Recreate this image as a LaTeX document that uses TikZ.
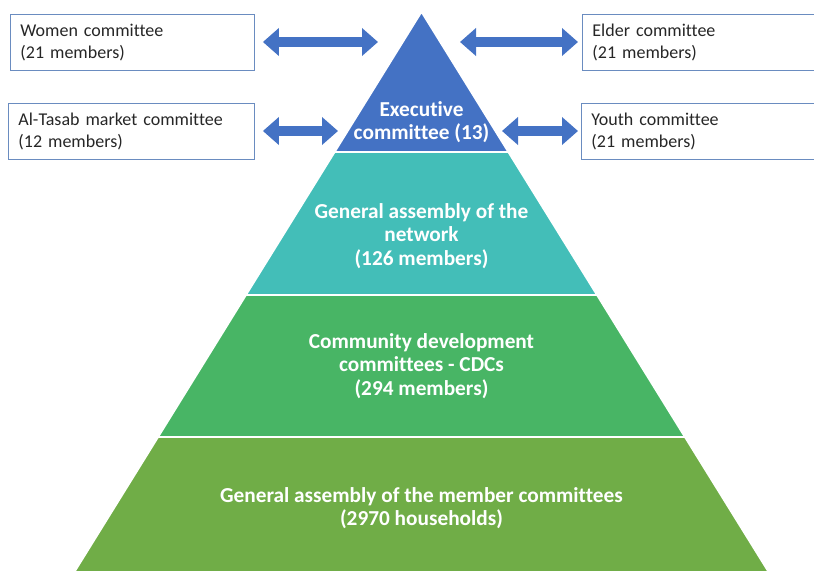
\documentclass[tikz,border=0pt]{standalone}
\usepackage{fontspec}
\setmainfont{Carlito}[Ligatures={NoCommon}]
\usetikzlibrary{arrows.meta}
\definecolor{execblue}{HTML}{4472C4}
\definecolor{tealc}{HTML}{43BEB8}
\definecolor{greenc}{HTML}{48B565}
\definecolor{olivec}{HTML}{70AD47}
\definecolor{boxline}{HTML}{6A8CC0}
\definecolor{txt}{HTML}{262626}
\tikzset{
  sidebox/.style={draw=boxline, line width=0.9pt, anchor=north west, minimum height=56pt,
    inner xsep=10pt, inner ysep=0pt, align=left, text=txt, font=\fontsize{18}{22.5}\selectfont},
  layer/.style={draw=white, line width=1.6pt},
  layertext/.style={text=white, align=center, font=\bfseries\fontsize{21.3}{23.5}\selectfont},
  biarrow/.style={draw=execblue, line width=10pt, {Triangle[width=27pt,length=16pt]}-{Triangle[width=27pt,length=16pt]}, fill=execblue}
}
\begin{document}
\begin{tikzpicture}[x=1pt,y=-1pt]
\useasboundingbox (0,0) rectangle (814,572);
% pyramid layers
\fill[layer, fill=execblue] (421.5,12) -- (508.25,152) -- (334.75,152) -- cycle;
\fill[layer, fill=tealc] (334.75,152) -- (508.25,152) -- (596.9,295) -- (246.1,295) -- cycle;
\fill[layer, fill=greenc] (246.1,295) -- (596.9,295) -- (684.8,437) -- (158.2,437) -- cycle;
\fill[layer, fill=olivec] (158.2,437) -- (684.8,437) -- (768.5,572) -- (74.5,572) -- cycle;
\draw[white, line width=1.6pt] (334.75,152) -- (508.25,152);
\draw[white, line width=1.6pt] (246.1,295) -- (596.9,295);
\draw[white, line width=1.6pt] (158.2,437) -- (684.8,437);
% layer texts
\node[layertext] (exec) at (421.5,122) {Executive\\committee (13)};
\node[layertext] (gan) at (421.5,236) {General assembly of the\\network\\(126 members)};
\node[layertext] (cdc) at (421.5,366) {Community development\\committees - CDCs\\(294 members)};
\node[layertext] (gam) at (421.5,508) {General assembly of the member committees\\(2970 households)};
% side boxes
\node[sidebox, text width=224pt] (women) at (10,14) {Women committee\\(21 members)};
\node[sidebox, text width=226pt] (tasab) at (8,103) {Al-Tasab market committee\\(12 members)};
\node[sidebox, text width=212pt] (elder) at (582,14) {Elder committee\\(21 members)};
\node[sidebox, text width=213pt] (youth) at (581,103) {Youth committee\\(21 members)};
% coordinates for arrow ends at the pyramid
\coordinate (exL1) at (378,42);
\coordinate (exR1) at (460,42);
\coordinate (exL2) at (338,131);
\coordinate (exR2) at (502,131);
% arrows
\draw[biarrow] ([xshift=8pt]women.east |- exL1) -- (exL1);
\draw[biarrow] ([xshift=8pt]tasab.east |- exL2) -- (exL2);
\draw[biarrow] (exR1) -- ([xshift=-4pt]elder.west |- exR1);
\draw[biarrow] (exR2) -- ([xshift=-3pt]youth.west |- exR2);
\end{tikzpicture}
\end{document}
